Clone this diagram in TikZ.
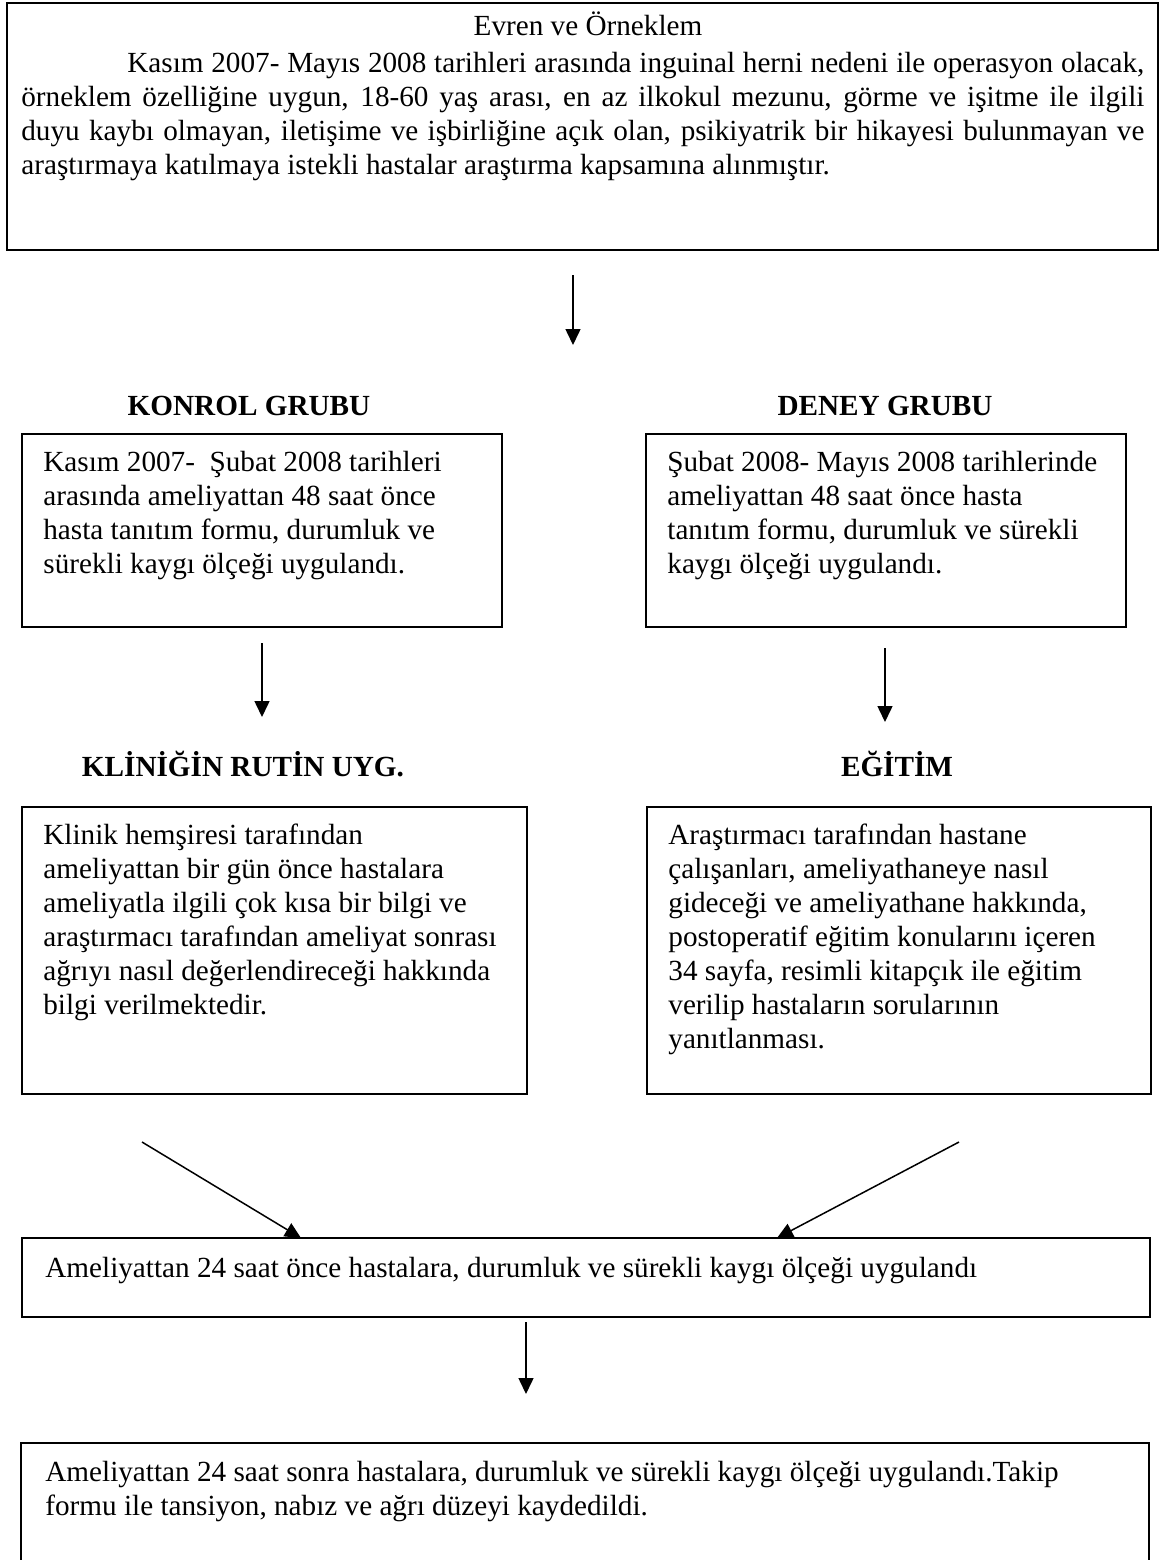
\documentclass[tikz,border=0pt]{standalone}
\usepackage{fontspec}
\setmainfont{Liberation Serif}
\usetikzlibrary{arrows.meta,fit}
\newcommand\myfont{\fontsize{14.6pt}{17pt}\selectfont}
\newcommand\stack[1]{\vtop{\baselineskip=17pt\lineskiplimit=-100pt\lineskip=0pt #1}}
\newcommand\row[1]{\hbox{#1}}
\newcommand\jrow[1]{\hbox to 561.5pt{#1}}
\begin{document}
\begin{tikzpicture}[x=0.5pt,y=-0.5pt,
  box/.style={draw, line width=1pt, inner sep=0pt},
  txt/.style={inner sep=0pt, anchor=base west, font=\myfont},
  head/.style={inner sep=0pt, anchor=base, font=\myfont\bfseries},
  arr/.style={line width=0.75pt, -{Triangle[width=7.5pt,length=8pt]}}]
\useasboundingbox[fill=white] (0,0) rectangle (1168,1560);

% top box
\node[box, line width=1.3pt, fit={(7,3) (1158,250)}] (top) {};
\node[inner sep=0pt, anchor=base, font=\myfont] (title) at (588,35) {Evren ve Örneklem};
\node[txt] (para) at (21,72) {\stack{%
\jrow{\hskip53pt Kasım 2007- Mayıs 2008 tarihleri arasında inguinal herni nedeni ile operasyon olacak,}%
\jrow{örneklem özelliğine uygun, 18-60 yaş arası, en az ilkokul mezunu, görme ve işitme ile ilgili}%
\jrow{duyu kaybı olmayan, iletişime ve işbirliğine açık olan, psikiyatrik bir hikayesi bulunmayan ve}%
\row{araştırmaya katılmaya istekli hastalar araştırma kapsamına alınmıştır.}}};

\coordinate (a1s) at (573,275);
\coordinate (a1e) at (573,345);
\draw[arr] (a1s) -- (a1e);

% group headings
\node[head] (hk) at (249,415) {KONROL GRUBU};
\node[head] (hd) at (885,415) {DENEY GRUBU};

% first row boxes
\node[box, fit={(22,434) (502,627)}] (l1) {};
\node[txt] (l1t) at (43,471) {\stack{%
\row{Kasım 2007-\ \ Şubat 2008 tarihleri}%
\row{arasında ameliyattan 48 saat önce}%
\row{hasta tanıtım formu, durumluk ve}%
\row{sürekli kaygı ölçeği uygulandı.}}};

\node[box, fit={(646,434) (1126,627)}] (r1) {};
\node[txt] (r1t) at (667,471) {\stack{%
\row{Şubat 2008- Mayıs 2008 tarihlerinde}%
\row{ameliyattan 48 saat önce hasta}%
\row{tanıtım formu, durumluk ve sürekli}%
\row{kaygı ölçeği uygulandı.}}};

\coordinate (a2s) at (262,643);
\coordinate (a2e) at (262,717);
\draw[arr] (a2s) -- (a2e);
\coordinate (a3s) at (885,648);
\coordinate (a3e) at (885,722);
\draw[arr] (a3s) -- (a3e);

\node[head] (hr) at (243,776) {KLİNİĞİN RUTİN UYG.};
\node[head] (he) at (897,776) {EĞİTİM};

% second row boxes
\node[box, fit={(22,807) (527,1094)}] (l2) {};
\node[txt] (l2t) at (43,844) {\stack{%
\row{Klinik hemşiresi tarafından}%
\row{ameliyattan bir gün önce hastalara}%
\row{ameliyatla ilgili çok kısa bir bilgi ve}%
\row{araştırmacı tarafından ameliyat sonrası}%
\row{ağrıyı nasıl değerlendireceği hakkında}%
\row{bilgi verilmektedir.}}};

\node[box, fit={(647,807) (1151,1094)}] (r2) {};
\node[txt] (r2t) at (668,844) {\stack{%
\row{Araştırmacı tarafından hastane}%
\row{çalışanları, ameliyathaneye nasıl}%
\row{gideceği ve ameliyathane hakkında,}%
\row{postoperatif eğitim konularını içeren}%
\row{34 sayfa, resimli kitapçık ile eğitim}%
\row{verilip hastaların sorularının}%
\row{yanıtlanması.}}};

% middle box
\node[box, fit={(22,1238) (1150,1317)}] (mid) {};
\node[txt] (midt) at (45,1277) {Ameliyattan 24 saat önce hastalara, durumluk ve sürekli kaygı ölçeği uygulandı};

\coordinate (d1s) at (142,1142);
\coordinate (d1e) at (301,1238);
\draw[arr] (d1s) -- (d1e);
\coordinate (d2s) at (959,1142);
\coordinate (d2e) at (777,1238);
\draw[arr] (d2s) -- (d2e);

\coordinate (a4s) at (526,1322);
\coordinate (a4e) at (526,1394);
\draw[arr] (a4s) -- (a4e);

% bottom box (continues below the page)
\node[box, fit={(21,1443) (1149,1600)}] (bot) {};
\node[txt] (bott) at (45,1481) {\stack{%
\row{Ameliyattan 24 saat sonra hastalara, durumluk ve sürekli kaygı ölçeği uygulandı.Takip}%
\row{formu ile tansiyon, nabız ve ağrı düzeyi kaydedildi.}}};
\end{tikzpicture}
\end{document}
